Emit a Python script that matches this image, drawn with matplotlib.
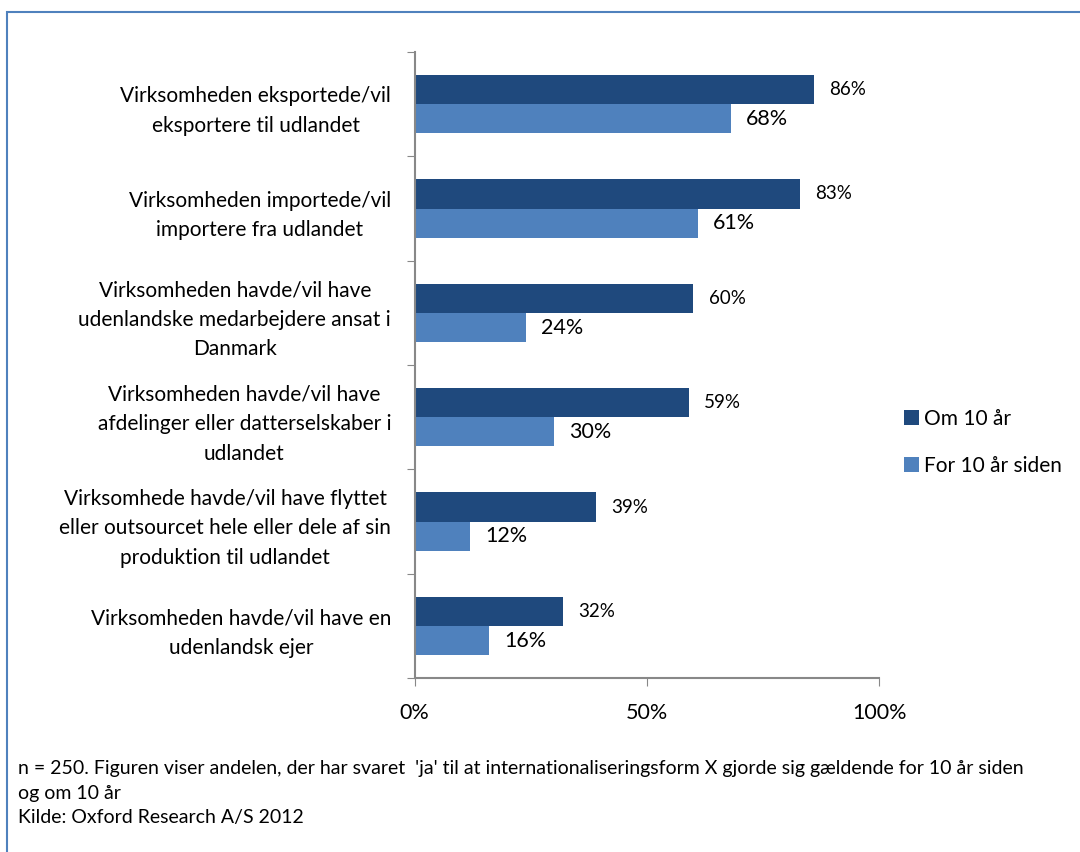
import matplotlib.pyplot as plt
import matplotlib.patches as patches
import numpy as np

plt.rcParams['font.family'] = ['Lato', 'DejaVu Sans']

categories = ['Virksomheden eksportede/vil\neksportere til udlandet',
              'Virksomheden importede/vil\nimportere fra udlandet',
              'Virksomheden havde/vil have\nudenlandske medarbejdere ansat i\nDanmark',
              'Virksomheden havde/vil have\nafdelinger eller datterselskaber i\nudlandet',
              'Virksomhede havde/vil have flyttet\neller outsourcet hele eller dele af sin\nproduktion til udlandet',
              'Virksomheden havde/vil have en\nudenlandsk ejer']
om_10_aar = [86, 83, 60, 59, 39, 32]
for_10_aar = [68, 61, 24, 30, 12, 16]
xtick_labels = ['0%', '50%', '100%']

dark = '#1F497D'
light = '#4F81BD'

fig = plt.figure(figsize=(10.8, 8.52), dpi=100)
ax = fig.add_axes([0.384, 0.204, 0.430, 0.735])

y = np.arange(len(categories))
h = 0.28
ax.barh(y - h / 2, om_10_aar, height=h, color=dark, label='Om 10 år')
ax.barh(y + h / 2, for_10_aar, height=h, color=light, label='For 10 år siden')

for yi, v in zip(y, om_10_aar):
    ax.annotate('%d%%' % v, (v, yi - h / 2), xytext=(11, 0), textcoords='offset points',
                va='center', ha='left', fontsize=13.5)
for yi, v in zip(y, for_10_aar):
    ax.annotate('%d%%' % v, (v, yi + h / 2), xytext=(11, 0), textcoords='offset points',
                va='center', ha='left', fontsize=15.5)

ax.set_ylim(len(categories) - 0.5, -0.5)
ax.set_xlim(0, 100)
ax.set_yticks(np.arange(len(categories) + 1) - 0.5)
ax.set_yticklabels([])
ax.set_yticks(y, minor=True)
ax.set_yticklabels(categories, minor=True, fontsize=15, ha='right', multialignment='center',
                   linespacing=1.6)
ax.tick_params(axis='y', which='minor', length=0, pad=17)
ax.tick_params(axis='y', which='major', length=6, color='#888888', direction='out')
ax.set_xticks([0, 50, 100])
ax.set_xticklabels(xtick_labels, fontsize=15.5)
ax.tick_params(axis='x', length=6, color='#888888', pad=12)

for s in ['top', 'right']:
    ax.spines[s].set_visible(False)
ax.spines['left'].set_color('#888888')
ax.spines['bottom'].set_color('#888888')
ax.spines['left'].set_linewidth(1.5)
ax.spines['bottom'].set_linewidth(1.5)

fig.legend(loc='upper left', bbox_to_anchor=(0.82, 0.542), frameon=False, fontsize=15,
           handlelength=0.7, handleheight=0.7, handletextpad=0.25, labelspacing=1.3)

fig.text(0.017, 0.108, "n = 250. Figuren viser andelen, der har svaret  'ja' til at internationaliseringsform X gjorde sig gældende for 10 år siden\nog om 10 år\nKilde: Oxford Research A/S 2012",
         fontsize=14, va='top', ha='left', linespacing=1.55)

border = patches.Rectangle((7 / 1080, -0.1), 1.2, 1 - 12 / 852 + 0.1, transform=fig.transFigure,
                           fill=False, edgecolor='#4F81BD', linewidth=1.5)
fig.add_artist(border)

fig.savefig('out.png', dpi=100)
